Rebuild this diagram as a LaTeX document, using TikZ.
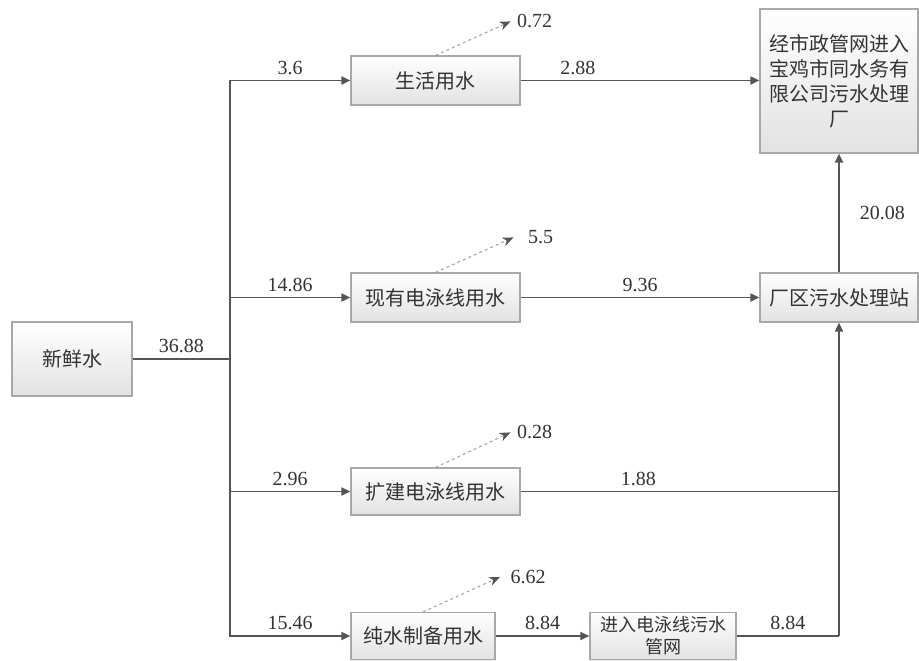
\documentclass[tikz,border=0pt]{standalone}
\usepackage{fontspec}
\setmainfont{Liberation Serif}
\newfontfamily\cjk{Noto Sans CJK SC}
\usepackage{tikz}
\usetikzlibrary{arrows.meta, shadows, positioning, calc}
\definecolor{linegray}{HTML}{555555}
\definecolor{textgray}{HTML}{333333}
\definecolor{boxedge}{HTML}{A8A8A8}
\definecolor{boxfill}{HTML}{E2E2E2}

\begin{document}
\begin{tikzpicture}[x=0.5pt, y=-0.5pt, text=textgray,
    box/.style={draw=boxedge, line width=0.6pt, top color=white, bottom color=boxfill, inner sep=0pt, align=center, font=\cjk\fontsize{10}{12.5}\selectfont, drop shadow={shadow xshift=0.7pt, shadow yshift=-0.7pt, opacity=0.15}},
    flow/.style={draw=linegray, line width=0.9pt, -{Triangle[length=4.5pt, width=4pt]}},
    pipe/.style={draw=linegray, line width=0.9pt},
    loss/.style={draw=gray!75, line width=0.5pt, dash pattern=on 1.5pt off 1.5pt, -{Stealth[length=5.5pt, width=4.5pt, color=linegray]}},
    num/.style={font=\fontsize{10}{12}\selectfont, inner sep=1pt}]
  \useasboundingbox (0,0) rectangle (919,660);
  % 方框
  \node[box, minimum width=60pt, minimum height=37pt] (xinxian) at (72,359) {新鲜水};
  \node[box, minimum width=84.5pt, minimum height=24.5pt] (shenghuo) at (435.5,80.5) {生活用水};
  \node[box, minimum width=84.5pt, minimum height=24.5pt] (xianyou) at (435.5,297.5) {现有电泳线用水};
  \node[box, minimum width=84.5pt, minimum height=23.5pt] (kuojian) at (435.5,491.5) {扩建电泳线用水};
  \node[box, minimum width=72pt, minimum height=23.5pt] (chunshui) at (423,636) {纯水制备用水};
  \node[box, minimum width=73pt, minimum height=23.5pt, font=\cjk\fontsize{9}{11}\selectfont] (guanwang) at (663,636) {进入电泳线污水\\管网};
  \node[box, minimum width=79pt, minimum height=24.5pt] (zhan) at (839,297.5) {厂区污水处理站};
  \node[box, minimum width=79pt, minimum height=72pt] (shizheng) at (839,81) {经市政管网进入\\宝鸡市同水务有\\限公司污水处理\\厂};

  % 新鲜水分配
  \coordinate (fen) at (230,359);
  \draw[pipe] (xinxian) -- (fen) node[num, midway, above=1.5pt] (l3688) {36.88};
  \draw[flow] (fen) |- (shenghuo) node[num, pos=0.75, above=1.5pt] (l36) {3.6};
  \draw[flow] (fen) |- (xianyou) node[num, pos=0.75, above=1.5pt] (l1486) {14.86};
  \draw[flow] (fen) |- (kuojian) node[num, pos=0.75, above=1.5pt] (l296) {2.96};
  \draw[flow] (fen) |- (chunshui) node[num, pos=0.75, above=1.5pt] (l1546) {15.46};

  % 损耗
  \draw[loss] (shenghuo.north) -- ++(75,-34) node[num, right=2pt] (l072) {0.72};
  \draw[loss] (xianyou.north) -- ++(78,-35) node[num, right=6pt] (l55) {5.5};
  \draw[loss] (kuojian.north) -- ++(75,-35) node[num, right=2pt] (l028) {0.28};
  \draw[loss] (chunshui.north) -- ++(77,-35) node[num, right=4pt] (l662) {6.62};

  % 排水
  \coordinate (hui) at (zhan.south |- chunshui);
  \draw[flow] (shenghuo.east) -- (shenghuo.east -| shizheng.west) node[num, pos=0.24, above=1.5pt] (l288) {2.88};
  \draw[flow] (xianyou) -- (zhan) node[num, midway, above=1.5pt] (l936) {9.36};
  \draw[pipe] (kuojian.east) -- (kuojian.east -| zhan.south) node[num, pos=0.37, above=1.5pt] (l188) {1.88};
  \draw[flow] (chunshui) -- (guanwang) node[num, midway, above=1.5pt] (l884a) {8.84};
  \draw[pipe] (guanwang) -- (hui) node[num, midway, above=1.5pt] (l884b) {8.84};
  \draw[flow] (hui) -- (zhan);
  \draw[flow] (zhan) -- (shizheng) node[num, midway, right=9pt] (l2008) {20.08};
\end{tikzpicture}
\end{document}
